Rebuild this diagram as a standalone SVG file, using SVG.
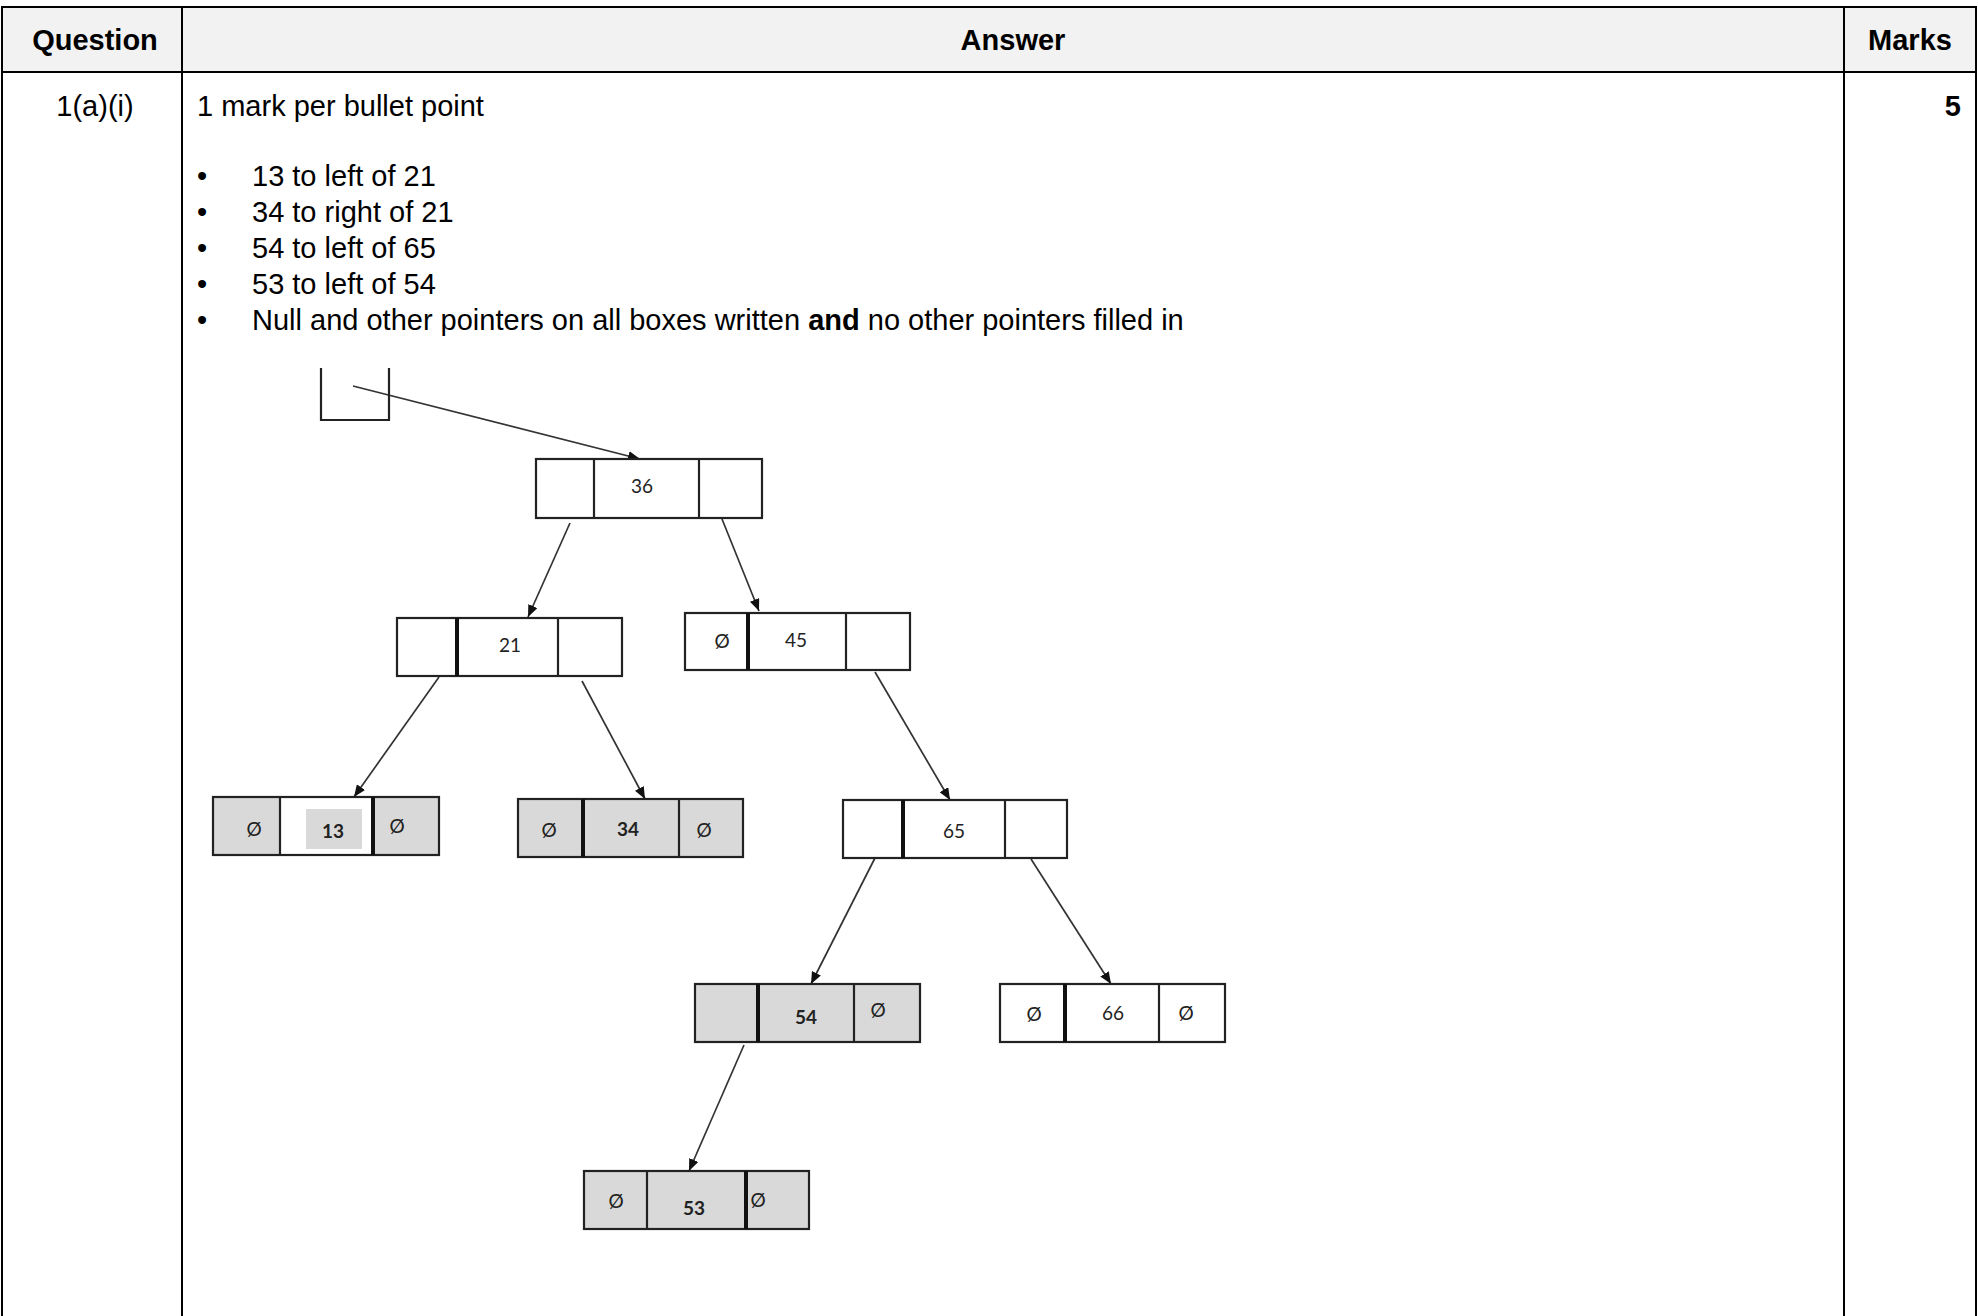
<svg xmlns="http://www.w3.org/2000/svg" width="1978" height="1316" viewBox="0 0 1978 1316">
<style>
.tbl{stroke:#000;stroke-width:2;fill:none}
.hd{font-family:"Liberation Sans",Arial,sans-serif;font-size:29px;font-weight:bold;fill:#000}
.tx{font-family:"Liberation Sans",Arial,sans-serif;font-size:29px;fill:#000}
.box{stroke:#222;stroke-width:2.2}
.thin{stroke:#222;stroke-width:2.2}
.thick{stroke:#111;stroke-width:4}
.g{fill:#d9d9d9}
.w{fill:#fff}
.nt{font-family:Lato,"Open Sans",sans-serif;font-size:19px;fill:#222;text-anchor:middle}
.nb{font-weight:bold}
.conn{stroke:#333;stroke-width:1.7;fill:none;marker-end:url(#ah)}
</style>
<defs>
<marker id="ah" markerUnits="userSpaceOnUse" markerWidth="13" markerHeight="10" refX="12" refY="5" orient="auto">
<path d="M0,0 L12,5 L0,10 z" fill="#111"/>
</marker>
</defs>
<rect width="1978" height="1316" fill="#fff"/>
<g id="table">
<rect x="2" y="7" width="1974" height="65" fill="#f2f2f2"/>
<path class="tbl" d="M2,1316 V7 H1976 V1316 M182,7 V1316 M1844,7 V1316 M2,72 H1976"/>
<text class="hd" x="95" y="50" text-anchor="middle">Question</text>
<text class="hd" x="1013" y="50" text-anchor="middle">Answer</text>
<text class="hd" x="1910" y="50" text-anchor="middle">Marks</text>
<text class="tx" x="95" y="116" text-anchor="middle">1(a)(i)</text>
<text class="tx" x="197" y="116">1 mark per bullet point</text>
<text class="hd" x="1961" y="116" text-anchor="end">5</text>
<text class="tx" x="197" y="186">•</text>
<text class="tx" x="252" y="186">13 to left of 21</text>
<text class="tx" x="197" y="222">•</text>
<text class="tx" x="252" y="222">34 to right of 21</text>
<text class="tx" x="197" y="258">•</text>
<text class="tx" x="252" y="258">54 to left of 65</text>
<text class="tx" x="197" y="294">•</text>
<text class="tx" x="252" y="294">53 to left of 54</text>
<text class="tx" x="197" y="330">•</text>
<text class="tx" x="252" y="330">Null and other pointers on all boxes written <tspan font-weight="bold">and</tspan> no other pointers filled in</text>
</g>
<g id="connectors">
<line class="conn" x1="353" y1="386" x2="640" y2="459"/>
<line class="conn" x1="570" y1="523" x2="528" y2="617"/>
<line class="conn" x1="722" y1="519" x2="759" y2="611"/>
<line class="conn" x1="439" y1="677" x2="354" y2="797"/>
<line class="conn" x1="582" y1="681" x2="645" y2="799"/>
<line class="conn" x1="875" y1="672" x2="950" y2="800"/>
<line class="conn" x1="876" y1="856" x2="811" y2="984"/>
<line class="conn" x1="1031" y1="859" x2="1111" y2="984"/>
<line class="conn" x1="744" y1="1045" x2="689" y2="1171"/>
</g>
<g id="node-root">
<path class="box" fill="none" d="M321,368 V420 H389 V368"/>
</g>
<g id="node-36">
<rect class="box w" x="536" y="459" width="226" height="59"/>
<line class="thin" x1="594" y1="459" x2="594" y2="518"/>
<line class="thin" x1="699" y1="459" x2="699" y2="518"/>
<text class="nt" x="642" y="493">36</text>
</g>
<g id="node-21">
<rect class="box w" x="397" y="618" width="225" height="58"/>
<line class="thick" x1="457" y1="618" x2="457" y2="676"/>
<line class="thin" x1="558" y1="618" x2="558" y2="676"/>
<text class="nt" x="510" y="652">21</text>
</g>
<g id="node-45">
<rect class="box w" x="685" y="613" width="225" height="57"/>
<line class="thick" x1="748" y1="613" x2="748" y2="670"/>
<line class="thin" x1="846" y1="613" x2="846" y2="670"/>
<text class="nt" x="722" y="648">Ø</text>
<text class="nt" x="796" y="647">45</text>
</g>
<g id="node-13">
<rect class="g" x="213" y="797" width="226" height="58"/>
<rect class="w" x="280" y="797" width="93" height="58"/>
<rect class="g" x="306" y="809" width="56" height="40"/>
<rect class="box" fill="none" x="213" y="797" width="226" height="58"/>
<line class="thin" x1="280" y1="797" x2="280" y2="855"/>
<line class="thick" x1="373" y1="797" x2="373" y2="855"/>
<text class="nt" x="254" y="836">Ø</text>
<text class="nt nb" x="333" y="838">13</text>
<text class="nt" x="397" y="833">Ø</text>
</g>
<g id="node-34">
<rect class="box g" x="518" y="799" width="225" height="58"/>
<line class="thick" x1="583" y1="799" x2="583" y2="857"/>
<line class="thin" x1="679" y1="799" x2="679" y2="857"/>
<text class="nt" x="549" y="837">Ø</text>
<text class="nt nb" x="628" y="836">34</text>
<text class="nt" x="704" y="837">Ø</text>
</g>
<g id="node-65">
<rect class="box w" x="843" y="800" width="224" height="58"/>
<line class="thick" x1="903" y1="800" x2="903" y2="858"/>
<line class="thin" x1="1005" y1="800" x2="1005" y2="858"/>
<text class="nt" x="954" y="838">65</text>
</g>
<g id="node-54">
<rect class="box g" x="695" y="984" width="225" height="58"/>
<line class="thick" x1="758" y1="984" x2="758" y2="1042"/>
<line class="thin" x1="854" y1="984" x2="854" y2="1042"/>
<text class="nt nb" x="806" y="1024">54</text>
<text class="nt" x="878" y="1017">Ø</text>
</g>
<g id="node-66">
<rect class="box w" x="1000" y="984" width="225" height="58"/>
<line class="thick" x1="1065" y1="984" x2="1065" y2="1042"/>
<line class="thin" x1="1159" y1="984" x2="1159" y2="1042"/>
<text class="nt" x="1034" y="1021">Ø</text>
<text class="nt" x="1113" y="1020">66</text>
<text class="nt" x="1186" y="1020">Ø</text>
</g>
<g id="node-53">
<rect class="box g" x="584" y="1171" width="225" height="58"/>
<line class="thin" x1="647" y1="1171" x2="647" y2="1229"/>
<line class="thick" x1="746" y1="1171" x2="746" y2="1229"/>
<text class="nt" x="616" y="1208">Ø</text>
<text class="nt nb" x="694" y="1215">53</text>
<text class="nt" x="758" y="1207">Ø</text>
</g>
</svg>
